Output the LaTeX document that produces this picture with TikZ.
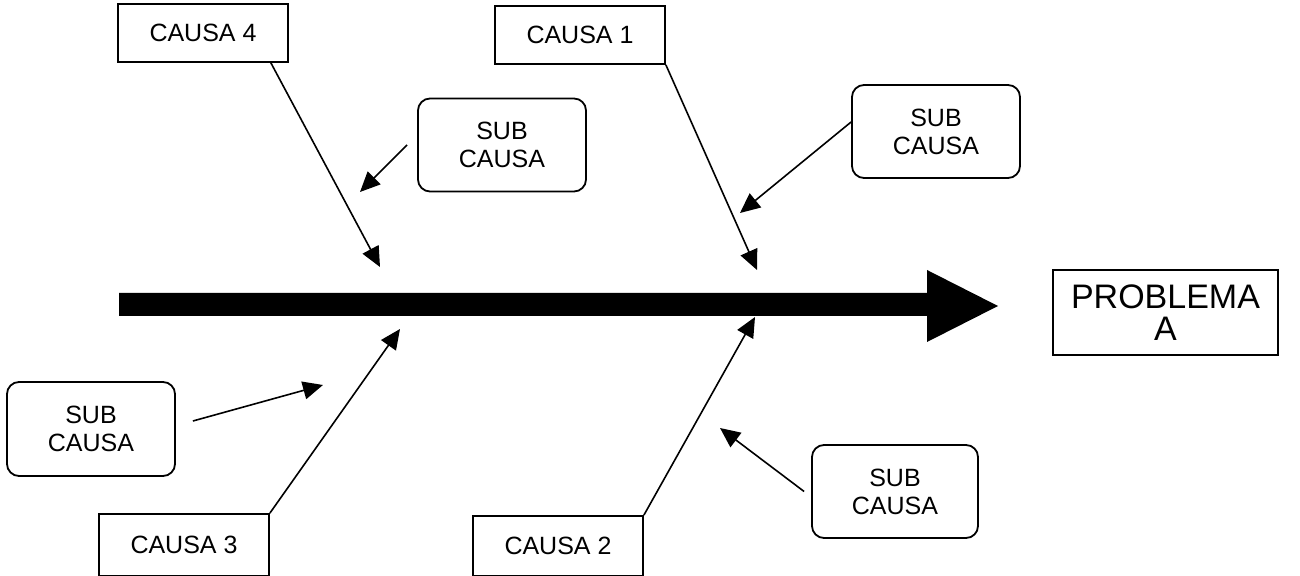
\documentclass[tikz,border=0pt]{standalone}
\usepackage{fontspec}
\setmainfont{Liberation Sans}
\usetikzlibrary{arrows.meta}

\begin{document}
\begin{tikzpicture}[
    x=0.5pt, y=-0.5pt,
    causebox/.style={draw, line width=0.9pt, minimum width=85pt, minimum height=29pt, font=\fontsize{12.5}{14}\selectfont},
    subbox/.style={draw, line width=0.9pt, rounded corners=6pt, minimum width=84pt, minimum height=46.5pt, align=center, font=\fontsize{12.5}{14}\selectfont},
    probbox/.style={draw, line width=0.9pt, minimum width=112.5pt, minimum height=42.5pt, align=center, font=\fontsize{17}{16}\selectfont},
    arrow/.style={-{Triangle[length=10pt, width=9pt]}, line width=0.8pt}
]
\useasboundingbox (0,0) rectangle (1300,576);

% main spine
\fill (119,293) -- (927,293) -- (927,270) -- (998,306) -- (927,342) -- (927,316) -- (119,316) -- cycle;

\node[probbox] (problema) at (1165.5,312.5) {PROBLEMA\\A};

% causes
\node[causebox] (causa4) at (203,33) {CAUSA 4};
\node[causebox] (causa1) at (580,35) {CAUSA 1};
\node[causebox, minimum height=31pt] (causa3) at (184,545) {CAUSA 3};
\node[causebox, minimum height=30pt] (causa2) at (558,546) {CAUSA 2};

% sub causes
\node[subbox] (sub4) at (502,145) {SUB\\CAUSA};
\node[subbox] (sub1) at (936,131.5) {SUB\\CAUSA};
\node[subbox, minimum width=83pt] (sub2) at (895,491.5) {SUB\\CAUSA};
\node[subbox, minimum height=47pt] (sub3) at (91,429) {SUB\\CAUSA};

\coordinate (tip4) at (380,267);
\coordinate (tip1) at (757,270);
\coordinate (tip3) at (400,329);
\coordinate (tip2) at (755,317);
\coordinate (subtip4) at (360,192);
\coordinate (subtip1) at (740,213);
\coordinate (subtip2) at (720,428);
\coordinate (subtip3) at (323,385);

\draw[arrow] ([xshift=-9pt]causa4.south east) -- (tip4);
\draw[arrow] (causa1.south east) -- (tip1);
\draw[arrow] (causa3.north east) -- (tip3);
\draw[arrow] (causa2.north east) -- (tip2);

\draw[arrow] ([xshift=-5pt]sub4.west) -- (subtip4);
\draw[arrow] ([yshift=4.75pt]sub1.west) -- (subtip1);
\draw[arrow] ([xshift=-3.5pt]sub2.west) -- (subtip2);
\draw[arrow] ([xshift=8.5pt, yshift=4pt]sub3.east) -- (subtip3);

\end{tikzpicture}
\end{document}
